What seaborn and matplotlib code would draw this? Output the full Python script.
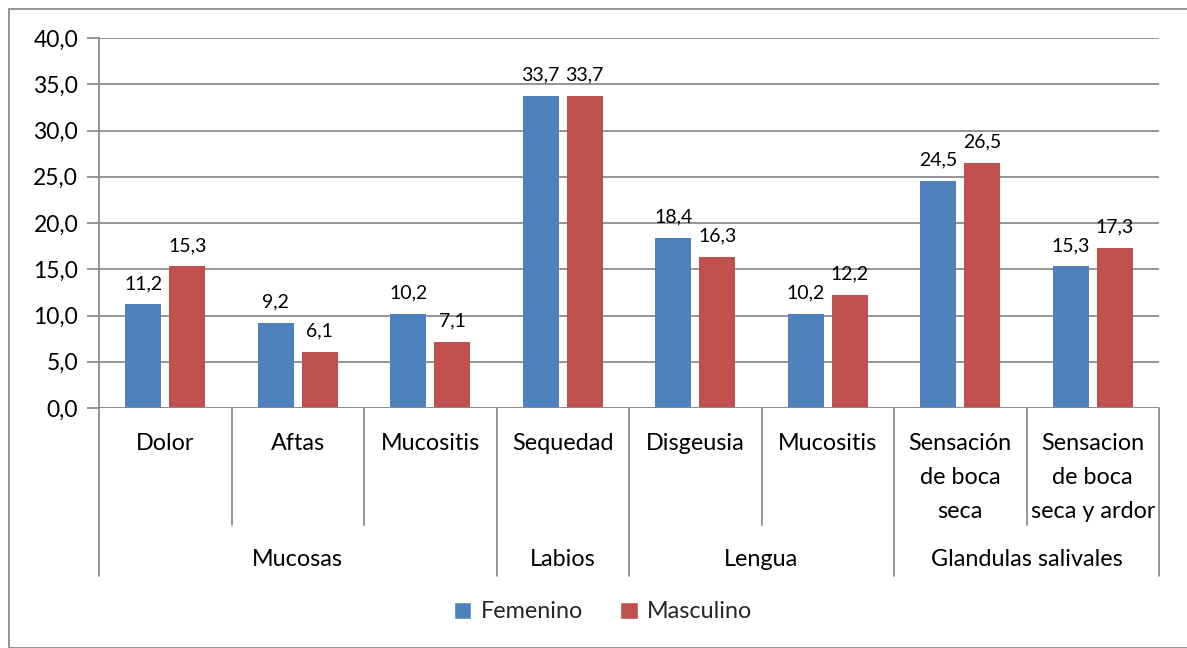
import matplotlib
matplotlib.use("Agg")
import matplotlib.pyplot as plt
import seaborn as sns
import pandas as pd
from matplotlib.patches import Rectangle
from matplotlib.patches import Patch

categories = ["Dolor", "Aftas", "Mucositis", "Sequedad", "Disgeusia", "Mucositis",
              "Sensación\nde boca\nseca", "Sensacion\nde boca\nseca y ardor"]
groups = ["Mucosas", "Labios", "Lengua", "Glandulas salivales"]
group_sizes = [3, 1, 2, 2]
femenino = [11.2, 9.2, 10.2, 33.7, 18.4, 10.2, 24.5, 15.3]
masculino = [15.3, 6.1, 7.1, 33.7, 16.3, 12.2, 26.5, 17.3]
series = ["Femenino", "Masculino"]
colors = ["#4F81BD", "#C0504D"]
yticks = [0, 5, 10, 15, 20, 25, 30, 35, 40]

sns.set_theme(style="white")
plt.rcParams["font.family"] = ["Lato", "DejaVu Sans"]

rows = []
for i, c in enumerate(categories):
    rows.append({"pos": i, "serie": series[0], "val": femenino[i]})
    rows.append({"pos": i, "serie": series[1], "val": masculino[i]})
df = pd.DataFrame(rows)

fig = plt.figure(figsize=(11.87, 6.48), dpi=100)
ax = fig.add_axes([99/1187, 1-408/648, (1159-99)/1187, (408-38)/648])

sns.barplot(data=df, x="pos", y="val", hue="serie", palette=colors, width=0.664,
            gap=0.18, ax=ax, legend=False, order=list(range(len(categories))),
            saturation=1, edgecolor="none", linewidth=0, zorder=3)

ax.set_xlim(-0.5, len(categories) - 0.5)
ax.set_ylim(0, 40)
ax.set_yticks(yticks)
ax.set_yticklabels([f"{v:.1f}".replace(".", ",") for v in yticks], fontsize=16.5, color="black")
ax.yaxis.grid(True, color="#8C8C8C", linewidth=1.3, zorder=0)
ax.set_axisbelow(True)
ax.tick_params(axis="y", length=9, width=1.3, color="#8C8C8C", pad=6, left=True)
ax.set_xticks([])
ax.set_xlabel("")
ax.set_ylabel("")
for s in ["top", "right", "bottom"]:
    ax.spines[s].set_visible(False)
ax.spines["left"].set_color("#8C8C8C")
ax.spines["left"].set_linewidth(1.3)
ax.axhline(0, color="#8C8C8C", linewidth=1.3, zorder=4)

for cont in ax.containers:
    ax.bar_label(cont, labels=[f"{v:.1f}".replace(".", ",") for v in cont.datavalues],
                 padding=9, fontsize=14, color="black")

# multi-level category axis
axis_h = 370.0
trans = ax.get_xaxis_transform()
short = -117 / axis_h
long_ = -168 / axis_h
bounds_long = {-0.5}
acc = -0.5
for n in group_sizes:
    acc += n
    bounds_long.add(acc)
for k in range(len(categories) + 1):
    b = k - 0.5
    y_end = long_ if b in bounds_long else short
    ax.plot([b, b], [0, y_end], transform=trans, color="#8C8C8C", linewidth=1.3,
            clip_on=False, zorder=5)

for i, c in enumerate(categories):
    ax.text(i, -25 / axis_h, c, transform=trans, ha="center", va="top",
            fontsize=16.8, linespacing=1.75, color="black")

start = -0.5
for g, n in zip(groups, group_sizes):
    ax.text(start + n / 2, -151 / axis_h, g, transform=trans, ha="center", va="center",
            fontsize=16.8, color="black")
    start += n

handles = [Patch(facecolor=colors[0], label=series[0]),
           Patch(facecolor=colors[1], label=series[1])]
fig.legend(handles=handles, loc="center", bbox_to_anchor=(603/1187, 1-612/648), ncol=2,
           frameon=False, fontsize=16.8, handlelength=0.75, handleheight=0.75,
           handletextpad=0.4, columnspacing=1.6)

fig.patches.append(Rectangle((9/1187, 0), 1 - 9/1187 + 0.01, 1 - 9/648, transform=fig.transFigure,
                             fill=False, edgecolor="#8C8C8C", linewidth=1.3))

fig.savefig("out.png", dpi=100)
